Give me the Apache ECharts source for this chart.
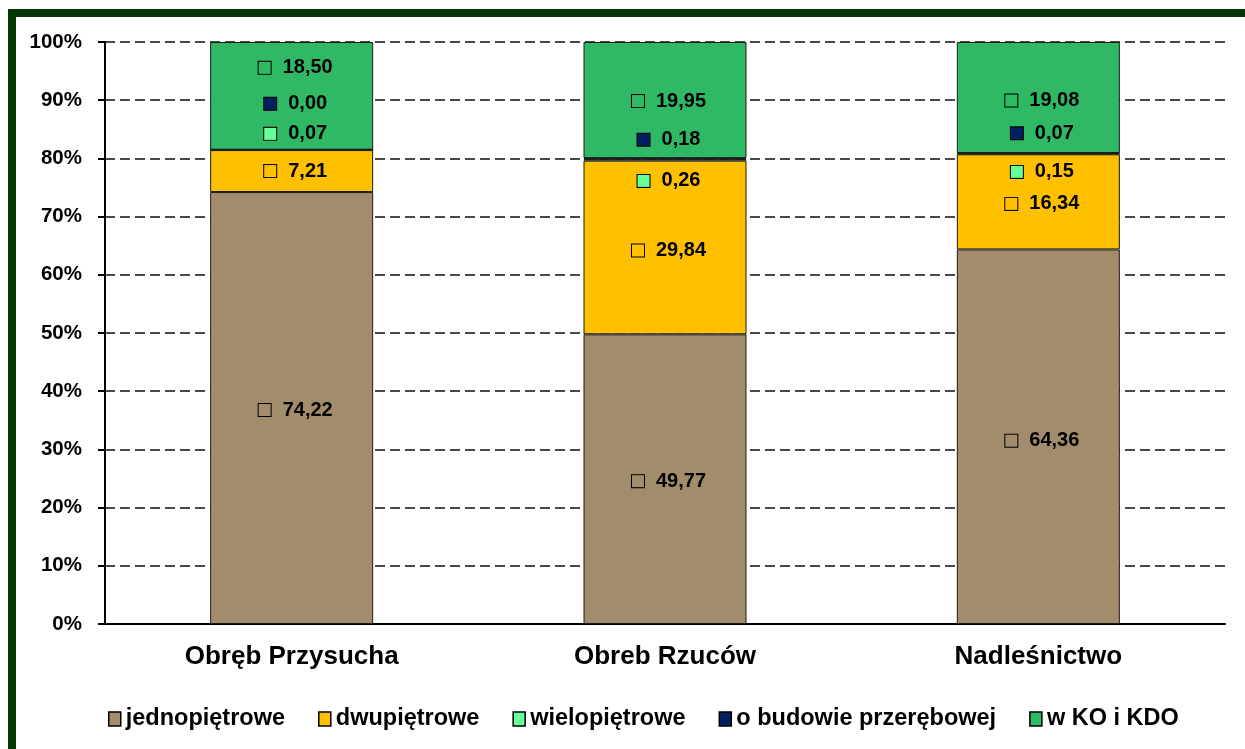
<!DOCTYPE html>
<html>
<head>
<meta charset="utf-8">
<script src="https://cdn.jsdelivr.net/npm/echarts@6/dist/echarts.min.js"></script>
<style>
  html, body { margin: 0; padding: 0; background: #fff; }
  #chart { width: 1245px; height: 749px; }
</style>
</head>
<body>
<div id="chart"></div>
<script>
// categories and values (percent of area)
const categories = ['Obręb Przysucha', 'Obreb Rzuców', 'Nadleśnictwo'];
const seriesNames = ['jednopiętrowe', 'dwupiętrowe', 'wielopiętrowe', 'o budowie przerębowej', 'w KO i KDO'];
const jednopietrowe = [74.22, 49.77, 64.36];
const dwupietrowe = [7.21, 29.84, 16.34];
const wielopietrowe = [0.07, 0.26, 0.15];
const przerebowe = [0.00, 0.18, 0.07];
const wKOiKDO = [18.50, 19.95, 19.08];
const yTicks = [0, 10, 20, 30, 40, 50, 60, 70, 80, 90, 100];

const colors = ['#A38C6C', '#FFC000', '#66FF99', '#002060', '#30B964'];
// label shifts (px) to keep the small labels apart, like the original
const labelShift = [
  [2, 2, 4],
  [0, 3, 2],
  [-16, 21, 18],
  [-46, -19, -20],
  [-28, 1, 3]
];

const font = '"Liberation Sans", Arial, sans-serif';
const allData = [jednopietrowe, dwupietrowe, wielopietrowe, przerebowe, wKOiKDO];

var chart = echarts.init(document.getElementById('chart'));

var series = allData.map(function (vals, s) {
  return {
    name: seriesNames[s],
    type: 'bar',
    stack: 'all',
    barWidth: 163,
    itemStyle: { color: colors[s], borderColor: '#1a1a1a', borderWidth: 1 },
    data: vals.map(function (v, i) {
      return {
        value: v,
        label: { offset: [4, labelShift[s][i]] }
      };
    }),
    label: {
      show: true,
      position: 'inside',
      formatter: function (p) {
        return '{k|}{g|}{v|' + p.value.toFixed(2).replace('.', ',') + '}';
      },
      rich: {
        k: { width: 12, height: 12, backgroundColor: colors[s], borderColor: '#000', borderWidth: 1 },
        g: { width: 12 },
        v: { fontFamily: font, fontWeight: 'bold', fontSize: 20, color: '#000' }
      }
    }
  };
});

chart.setOption({
  animation: false,
  backgroundColor: '#fff',
  graphic: [{
    type: 'rect',
    shape: { x: 12, y: 13, width: 1400, height: 900 },
    style: { fill: 'none', stroke: '#033603', lineWidth: 8 }
  }],
  grid: { left: 105, right: 20, top: 42, bottom: 125 },
  legend: {
    bottom: 13,
    left: 103,
    itemWidth: 12,
    itemHeight: 14,
    itemGap: 33,
    icon: 'rect',
    itemStyle: { borderColor: '#000', borderWidth: 1.5 },
    textStyle: { fontFamily: font, fontWeight: 'bold', fontSize: 23.5, color: '#000' },
    data: seriesNames
  },
  xAxis: {
    type: 'category',
    data: categories,
    axisLine: { lineStyle: { color: '#000', width: 2 } },
    axisTick: { show: false },
    axisLabel: { margin: 20, fontFamily: font, fontWeight: 'bold', fontSize: 26, color: '#000' }
  },
  yAxis: {
    type: 'value',
    min: yTicks[0],
    max: yTicks[yTicks.length - 1],
    interval: yTicks[1] - yTicks[0],
    axisLine: { show: true, lineStyle: { color: '#000', width: 2 } },
    axisTick: { show: true, length: 7, lineStyle: { color: '#000', width: 2 } },
    axisLabel: { margin: 23, formatter: '{value}%', fontFamily: font, fontWeight: 'bold', fontSize: 20.5, color: '#000' },
    splitLine: { lineStyle: { color: '#4a4a4a', width: 2, type: [10, 5] } }
  },
  series: series
});
</script>
</body>
</html>
